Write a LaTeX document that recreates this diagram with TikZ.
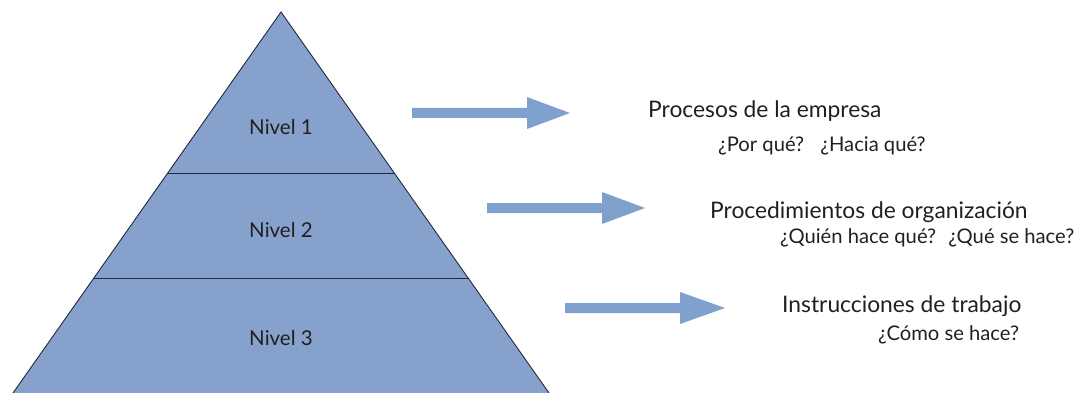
\documentclass[tikz,border=0pt]{standalone}
\usepackage{fontspec}
\setmainfont{Lato}
\definecolor{pyrfill}{RGB}{134,162,204}
\definecolor{arrfill}{RGB}{128,160,206}
\definecolor{edge}{RGB}{35,40,60}
\definecolor{ink}{RGB}{35,31,32}
\tikzset{
  layer/.style={fill=pyrfill,draw=edge,line width=0.9pt,line join=miter},
  blockarrow/.style={fill=arrfill,draw=none},
  lvl/.style={anchor=base,text=ink,font=\fontsize{20.5}{24}\selectfont,inner sep=0pt},
  title/.style={anchor=base west,text=ink,font=\fontsize{22.8}{26}\selectfont,inner sep=0pt},
  sub/.style={anchor=base west,text=ink,font=\fontsize{20.2}{23}\selectfont,inner sep=0pt}
}
\begin{document}
\begin{tikzpicture}[x=1pt,y=-1pt]
\useasboundingbox (0,0) rectangle (1084,393);
% pyramid
\coordinate (apex) at (281,12);
\coordinate (l1) at (168,173);
\coordinate (r1) at (394,173);
\coordinate (l2) at (94,278);
\coordinate (r2) at (468,278);
\coordinate (bl) at (13,393);
\coordinate (br) at (549,393);
\fill[pyrfill] (apex) -- (bl) -- (br) -- cycle;
\draw[edge,line width=0.9pt] (bl) -- (apex) -- (br);
\draw[edge,line width=0.9pt] (l1) -- (r1);
\draw[edge,line width=0.9pt] (l2) -- (r2);
\node[lvl] (n1) at (281,135) {Nivel 1};
\node[lvl] (n2) at (281,237) {Nivel 2};
\node[lvl] (n3) at (281,345) {Nivel 3};
% arrows
\fill[blockarrow] (412,108) -- (527,108) -- (527,97) -- (570,113) -- (527,129) -- (527,118) -- (412,118) -- cycle;
\fill[blockarrow] (487,203) -- (602,203) -- (602,192) -- (645,208) -- (602,224) -- (602,213) -- (487,213) -- cycle;
\fill[blockarrow] (565,303) -- (680,303) -- (680,292) -- (725,308) -- (680,324) -- (680,313) -- (565,313) -- cycle;
% texts
\node[title] (t1) at (648,118) {Procesos de la empresa};
\node[sub] (s1) at (718,152) {¿Por qué?\hspace{0.8em}¿Hacia qué?};
\node[title] (t2) at (710,218) {Procedimientos de organización};
\node[sub] (s2) at (780,243) {¿Quién hace qué?\hspace{0.6em}¿Qué se hace?};
\node[title] (t3) at (782,312) {Instrucciones de trabajo};
\node[sub] (s3) at (878,340) {¿Cómo se hace?};
\end{tikzpicture}
\end{document}
